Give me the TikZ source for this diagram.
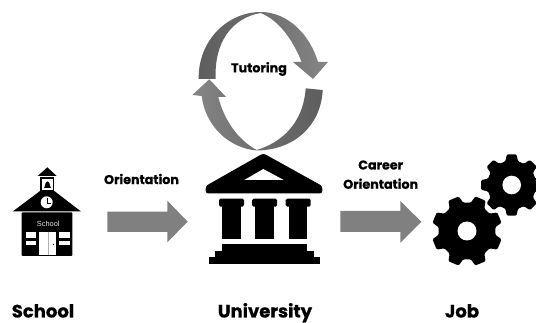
\documentclass[tikz,border=0pt]{standalone}
\usepackage{fontspec}
\setmainfont{Poppins}[BoldFont={Poppins Bold},BoldFeatures={FakeBold=0.7}]
\newfontfamily\signfont{Liberation Sans}
\tikzset{
  px/.style={x=1pt,y=-1pt},
  solidshape/.style={fill=black,draw=none},
  whiteshape/.style={fill=white,draw=none},
  blockarrow/.style={fill=arrowgray,draw=none},
  smalllabel/.style={font=\bfseries\fontsize{12.7}{14}\selectfont,inner sep=0pt,text=black},
  biglabel/.style={font=\bfseries\fontsize{18}{19}\selectfont,inner sep=0pt,text=black,anchor=base},
}
\definecolor{arrowgray}{HTML}{808080}
\definecolor{cycledark}{HTML}{5E5E5E}
\definecolor{cyclelight}{HTML}{868686}
\newcommand{\gearshape}[5]{% cx cy phase rRoot colour
  \fill[#5,rounded corners=1.2pt]
    \foreach \k in {0,...,7} {
      \ifnum\k=0 ({#1+#4*cos(\k*45+#3-15)},{#2+#4*sin(\k*45+#3-15)})
      \else -- ({#1+#4*cos(\k*45+#3-15)},{#2+#4*sin(\k*45+#3-15)})\fi
      -- ({#1+\rOut*cos(\k*45+#3-9)},{#2+\rOut*sin(\k*45+#3-9)})
      -- ({#1+\rOut*cos(\k*45+#3+9)},{#2+\rOut*sin(\k*45+#3+9)})
      -- ({#1+#4*cos(\k*45+#3+15)},{#2+#4*sin(\k*45+#3+15)})
    } -- cycle;
}
\begin{document}
\begin{tikzpicture}[px]
\useasboundingbox (0,0) rectangle (536,323);
\begin{scope}
\clip (0,0) rectangle (536,323);

% cycle arrows
\path[left color=cycledark,right color=cyclelight,middle color=cycledark!60!cyclelight]
  (198.7,79) .. controls (198,40) and (228,12) .. (260.7,12)
  .. controls (288,12) and (310,35) .. (318,62)
  -- (328,62) -- (313,79) -- (293,62) -- (301.7,62)
  .. controls (292,38) and (278,20) .. (260.7,13)
  .. controls (232,18) and (214,42) .. (215.7,79) -- cycle;
\path[left color=cyclelight,right color=cycledark,middle color=cycledark!60!cyclelight]
  (322.7,90) .. controls (321,125) and (295,150) .. (256.7,150.5)
  .. controls (228,148) and (205,125) .. (201.7,96)
  -- (192.3,95) -- (209.3,79.3) -- (226,97) -- (218.3,97)
  .. controls (224,120) and (238,140) .. (256.7,150)
  .. controls (280,143) and (303,125) .. (305.7,88.3) -- cycle;

% school
\fill[solidshape] (47.3,167.3) -- (56.7,176) -- (37.7,176) -- cycle;
\fill[solidshape] (40,177.3) rectangle (54.3,191.7);
\fill[whiteshape] (42.3,179.3) rectangle (52.7,190);
\fill[solidshape] (44,188) .. controls (45.5,186) and (45,181.5) .. (47.5,181.5)
  .. controls (50,181.5) and (49.5,186) .. (51,188) -- cycle;
\fill[solidshape] (12.7,211.5) -- (40,191) -- (54.3,191) -- (81,211.5) -- cycle;
\fill[whiteshape] (46.7,202.3) circle (6);
\draw[black,line width=.8pt] (47,198.5) -- (47,203) -- (50.5,203);
\fill[solidshape,rounded corners=1pt] (21.7,212.3) rectangle (72.3,256);
\node[font=\signfont\fontsize{7.4}{9}\selectfont,text=white!88!black,inner sep=0pt] (schoolsign) at (48.3,224) {School};
\fill[whiteshape] (39.3,231.7) rectangle (56,255);
\draw[gray!60,line width=.4pt] (47.7,231.7) -- (47.7,255);
\fill[solidshape] (53.3,244.3) circle (.7);
\foreach \xa/\xb in {25.7/36,59.3/70}{
  \fill[whiteshape] (\xa,231.7) rectangle (\xb,238.3);
  \fill[whiteshape] (\xa,241) rectangle (\xb,245);
}

% university
\fill[solidshape,rounded corners=2.5pt] (263.3,153.3) -- (322.3,186) -- (322.3,193.5) -- (205.7,193.5) -- (205.7,186) -- cycle;
\fill[whiteshape] (263.3,169) -- (283.7,180) -- (244.3,180) -- cycle;
\foreach \cx in {231.5,264.6,298.2}{
  \fill[solidshape,rounded corners=1.5pt] (\cx-12.5,198.7) rectangle (\cx+12.5,206.7);
  \fill[solidshape] (\cx-9.2,203) rectangle (\cx+9.2,239);
}
\fill[solidshape] (222.3,244.3) rectangle (306.7,252);
\fill[solidshape] (215.3,251) rectangle (314,258);
\fill[solidshape] (209.3,257.3) rectangle (319.7,263.7);

% gears
\def\rOut{31}
\gearshape{511.7}{185}{0}{24.5}{black}
\fill[whiteshape] (511.7,185) circle (9.3);
\def\rOut{35.5}
\fill[white] (467,231) circle (31);
\gearshape{467}{231}{22.5}{28.5}{black}
\fill[whiteshape] (467,231) circle (9.5);

% block arrows
\fill[blockarrow] (107.3,211.7) -- (167.3,211.7) -- (167.3,200.7) -- (187.7,221.7) -- (167.3,242.3) -- (167.3,232) -- (107.3,232) -- cycle;
\fill[blockarrow] (340.3,211) -- (400.3,211) -- (400.3,201) -- (421.3,221.7) -- (400.3,242.7) -- (400.3,232) -- (340.3,232) -- cycle;
\end{scope}

% labels
\node[smalllabel] (tutoring) at (259,69) {Tutoring};
\node[smalllabel] (orient) at (141.5,179) {Orientation};
\node[smalllabel] (career) at (380.7,165) {Career};
\node[smalllabel] (orient2) at (380.7,183.7) {Orientation};
\node[biglabel] (school) at (43,317.5) {School};
\node[biglabel] (university) at (265,317.5) {University};
\node[biglabel] (job) at (462,317.5) {Job};
\end{tikzpicture}
\end{document}
